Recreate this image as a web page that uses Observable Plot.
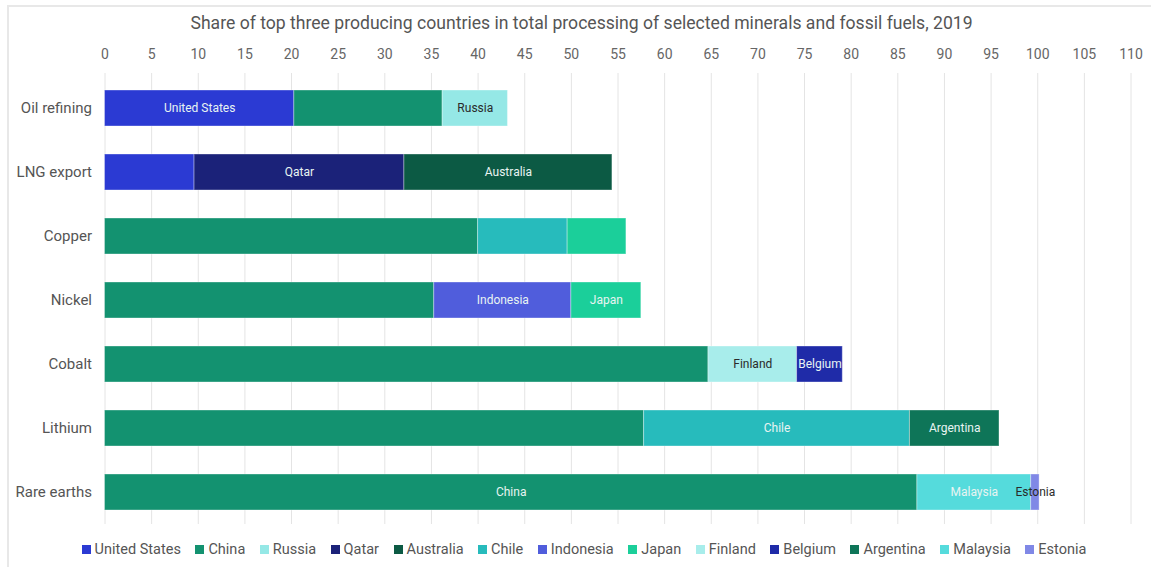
<!DOCTYPE html>
<html>
<head>
<meta charset="utf-8">
<script src="https://cdn.jsdelivr.net/npm/d3@7"></script>
<script src="https://cdn.jsdelivr.net/npm/@observablehq/plot@0.6"></script>
<style>
  html, body { margin: 0; padding: 0; background: #fff; width: 1151px; height: 567px; overflow: hidden; }
  body { font-family: Roboto, "Noto Sans", sans-serif; position: relative; }
  #frame { position: absolute; left: 7px; top: 5px; width: 1200px; height: 620px; border: 2px solid #e8e8e8; box-sizing: border-box; }
  #title { position: absolute; top: 13px; left: 0; width: 1163px; text-align: center; font-size: 17.6px; color: #555; white-space: nowrap; }
  #chart { position: absolute; top: 36px; left: 0; }
  #legend { position: absolute; top: 541px; left: 0; width: 1168px; display: flex; justify-content: center; gap: 14.5px; font-size: 14.5px; color: #555; }
  .item { display: flex; align-items: center; gap: 4px; white-space: nowrap; }
  .sw { width: 9px; height: 9px; display: inline-block; }
</style>
</head>
<body>
<div id="frame"></div>
<div id="title">Share of top three producing countries in total processing of selected minerals and fossil fuels, 2019</div>
<div id="chart"></div>
<div id="legend"></div>
<script>
const minerals = ["Oil refining", "LNG export", "Copper", "Nickel", "Cobalt", "Lithium", "Rare earths"];
const countries = ["United States", "China", "Russia", "Qatar", "Australia", "Chile", "Indonesia", "Japan", "Finland", "Belgium", "Argentina", "Malaysia", "Estonia"];
const countryColors = ["#2B3AD3", "#139270", "#95E8E6", "#1B2279", "#0C5A44", "#27BBBC", "#505DDC", "#1BCF9A", "#A8EDEB", "#1F2BA8", "#0E7558", "#55DBDC", "#8088E6"];
const segCountries = [
  ["United States", "China", "Russia"],
  ["United States", "Qatar", "Australia"],
  ["China", "Chile", "Japan"],
  ["China", "Indonesia", "Japan"],
  ["China", "Finland", "Belgium"],
  ["China", "Chile", "Argentina"],
  ["China", "Malaysia", "Estonia"]
];
const segValues = [
  [20.3, 15.9, 7.0],
  [9.6, 22.5, 22.3],
  [40.0, 9.6, 6.3],
  [35.3, 14.7, 7.5],
  [64.7, 9.5, 4.9],
  [57.8, 28.5, 9.6],
  [87.1, 12.2, 0.9]
];
const segLabelShown = [
  [true, false, true],
  [false, true, true],
  [false, false, false],
  [false, true, true],
  [false, true, true],
  [false, true, true],
  [true, true, true]
];
const xTicks = d3.range(0, 111, 5);

const colorOf = new Map(countries.map((c, i) => [c, countryColors[i]]));
const rows = [];
minerals.forEach((m, i) => {
  segCountries[i].forEach((c, j) => {
    rows.push({mineral: m, country: c, value: segValues[i][j], show: segLabelShown[i][j]});
  });
});
const isDarkLabel = d => d3.lab(colorOf.get(d.country)).l > 84 || d.value < 2;

const plot = Plot.plot({
  width: 1151,
  height: 492,
  marginTop: 37,
  marginBottom: 4,
  marginLeft: 104.5,
  marginRight: 20.5,
  style: {fontFamily: "Roboto, 'Noto Sans', sans-serif", background: "transparent"},
  x: {domain: [0, 110], label: null},
  y: {domain: minerals, range: [53, 474], paddingInner: 0.44, paddingOuter: 0, label: null},
  color: {domain: countries, range: countryColors},
  marks: [
    Plot.gridX(xTicks, {stroke: "#e4e4e4", strokeOpacity: 1, strokeWidth: 1}),
    Plot.barX(rows, {y: "mineral", x: "value", fill: "country", stroke: "#ffffff", strokeOpacity: 0.35, strokeWidth: 1}),
    Plot.text(rows, Plot.stackX({y: "mineral", x: "value", text: d => (d.show && !isDarkLabel(d)) ? d.country : null, fill: "#e8f4f2", fontSize: 12})),
    Plot.text(rows, Plot.stackX({y: "mineral", x: "value", text: d => (d.show && isDarkLabel(d)) ? d.country : null, fill: "#2a2a2a", fontSize: 12})),
    Plot.axisX(xTicks, {anchor: "top", tickSize: 0, tickPadding: 15, fontSize: 14, fill: "#666", label: null}),
    Plot.axisY({tickSize: 0, tickPadding: 13, fontSize: 15, fill: "#555", label: null})
  ]
});
document.getElementById("chart").appendChild(plot);

const legend = d3.select("#legend");
countries.forEach((c, i) => {
  const it = legend.append("div").attr("class", "item");
  it.append("span").attr("class", "sw").style("background", countryColors[i]);
  it.append("span").text(c);
});
</script>
</body>
</html>
